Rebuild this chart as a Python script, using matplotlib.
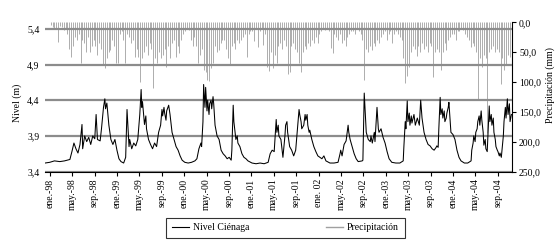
import matplotlib.pyplot as plt
import numpy as np
from matplotlib.lines import Line2D
from matplotlib.ticker import FuncFormatter

plt.rcParams['font.family'] = ['Liberation Serif', 'DejaVu Serif']
plt.rcParams['font.size'] = 7

# nivel de la cienaga (m), tiempo en anos decimales
level_t = [1997.93,
    1998.00, 1998.07, 1998.15, 1998.22, 1998.30, 1998.33, 1998.36, 1998.39, 1998.42, 1998.45,
    1998.48, 1998.49, 1998.52, 1998.55, 1998.58, 1998.61, 1998.64, 1998.67, 1998.69, 1998.71,
    1998.75, 1998.77, 1998.80, 1998.82, 1998.83, 1998.85, 1998.88, 1998.91, 1998.94, 1998.97,
    1999.00, 1999.03, 1999.06, 1999.10, 1999.13, 1999.15, 1999.18, 1999.19, 1999.22, 1999.25,
    1999.28, 1999.31, 1999.34, 1999.36, 1999.37, 1999.38, 1999.41, 1999.43, 1999.44, 1999.47,
    1999.50, 1999.53, 1999.56, 1999.59, 1999.62, 1999.65, 1999.67, 1999.68, 1999.70, 1999.71,
    1999.73, 1999.74, 1999.77, 1999.79, 1999.82, 1999.85, 1999.88, 1999.91, 1999.94, 1999.97,
    2000.01, 2000.06, 2000.11, 2000.16, 2000.19, 2000.22, 2000.25, 2000.26, 2000.28, 2000.29,
    2000.31, 2000.32, 2000.34, 2000.35, 2000.37, 2000.38, 2000.40, 2000.41, 2000.43, 2000.44,
    2000.46, 2000.49, 2000.52, 2000.55, 2000.58, 2000.61, 2000.64, 2000.67, 2000.70, 2000.71,
    2000.73, 2000.74, 2000.77, 2000.79, 2000.80, 2000.83, 2000.86, 2000.89, 2000.92, 2000.95,
    2001.01, 2001.07, 2001.13, 2001.19, 2001.25, 2001.28, 2001.31, 2001.34, 2001.37, 2001.38,
    2001.40, 2001.41, 2001.44, 2001.47, 2001.50, 2001.51, 2001.53, 2001.54, 2001.57, 2001.60,
    2001.63, 2001.66, 2001.69, 2001.71, 2001.72, 2001.74, 2001.75, 2001.78, 2001.80, 2001.81,
    2001.83, 2001.84, 2001.86, 2001.87, 2001.90, 2001.93, 2001.96, 2001.99,
    2002.02, 2002.05, 2002.08, 2002.11, 2002.17, 2002.23, 2002.29, 2002.32, 2002.33, 2002.35,
    2002.38, 2002.41, 2002.44, 2002.45, 2002.47, 2002.50, 2002.53, 2002.56, 2002.59, 2002.65,
    2002.66, 2002.68, 2002.71, 2002.74, 2002.77, 2002.78, 2002.80, 2002.83, 2002.84, 2002.87,
    2002.89, 2002.90, 2002.93, 2002.96, 2002.99,
    2003.02, 2003.05, 2003.09, 2003.15, 2003.21, 2003.26, 2003.27, 2003.29, 2003.30, 2003.32,
    2003.33, 2003.35, 2003.36, 2003.38, 2003.39, 2003.42, 2003.44, 2003.47, 2003.50, 2003.52,
    2003.54, 2003.57, 2003.60, 2003.63, 2003.66, 2003.69, 2003.72, 2003.75, 2003.76, 2003.78,
    2003.79, 2003.81, 2003.82, 2003.84, 2003.85, 2003.87, 2003.88, 2003.90, 2003.91, 2003.93,
    2003.94, 2003.96, 2003.97,
    2004.00, 2004.03, 2004.06, 2004.09, 2004.12, 2004.17, 2004.22, 2004.27, 2004.28, 2004.30,
    2004.31, 2004.33, 2004.34, 2004.36, 2004.37, 2004.39, 2004.40, 2004.42, 2004.43, 2004.45,
    2004.46, 2004.48, 2004.49, 2004.51, 2004.52, 2004.54, 2004.55, 2004.57, 2004.58, 2004.60,
    2004.61, 2004.63, 2004.64, 2004.66, 2004.67, 2004.69, 2004.70, 2004.72, 2004.73, 2004.75,
    2004.76, 2004.78, 2004.79, 2004.81, 2004.82, 2004.84, 2004.85, 2004.87]
level_m = [3.52,
    3.53, 3.55, 3.54, 3.55, 3.57, 3.68, 3.80, 3.72, 3.66, 3.78,
    4.06, 3.72, 3.90, 3.82, 3.88, 3.78, 3.90, 3.86, 4.20, 3.85,
    3.83, 4.00, 4.30, 4.42, 4.28, 4.36, 4.05, 3.85, 3.78, 3.85,
    3.70, 3.58, 3.54, 3.52, 3.60, 4.27, 3.75, 3.85, 3.72, 3.80,
    3.76, 3.85, 4.20, 4.55, 4.30, 4.38, 4.06, 4.18, 4.00, 3.85,
    3.78, 3.72, 3.80, 3.75, 3.95, 4.05, 4.27, 4.18, 4.30, 4.22,
    4.12, 4.25, 4.33, 4.20, 3.95, 3.85, 3.75, 3.70, 3.62, 3.56,
    3.53, 3.52, 3.53, 3.55, 3.58, 3.72, 3.80, 3.75, 4.10, 4.62,
    4.30, 4.58, 4.25, 4.40, 4.20, 4.35, 4.40, 4.28, 4.45, 4.35,
    4.05, 3.90, 3.85, 3.70, 3.65, 3.62, 3.58, 3.60, 3.56, 3.70,
    4.33, 4.10, 3.85, 3.90, 3.80, 3.75, 3.65, 3.60, 3.58, 3.55,
    3.52, 3.51, 3.52, 3.51, 3.53, 3.65, 3.70, 3.68, 4.13, 3.95,
    4.05, 3.90, 3.85, 3.60, 3.90, 4.05, 4.10, 3.95, 3.75, 3.70,
    3.62, 3.70, 4.05, 4.27, 4.20, 4.10, 4.00, 4.05, 4.20, 4.12,
    4.20, 4.05, 3.95, 3.98, 3.85, 3.75, 3.68, 3.62,
    3.60, 3.58, 3.62, 3.55, 3.52, 3.52, 3.53, 3.65, 3.70, 3.62,
    3.78, 3.83, 4.05, 3.95, 3.85, 3.75, 3.65, 3.58, 3.54, 3.55,
    3.56, 4.50, 3.95, 3.85, 3.82, 3.90, 3.80, 3.95, 3.82, 4.30,
    4.00, 3.95, 4.00, 3.88, 3.80,
    3.68, 3.58, 3.53, 3.52, 3.52, 3.55, 3.75, 4.10, 4.00, 4.39,
    4.10, 4.22, 4.05, 4.18, 4.08, 4.20, 4.05, 4.15, 4.05, 4.40,
    4.15, 3.95, 3.85, 3.78, 3.76, 3.72, 3.70, 3.74, 3.76, 3.74,
    4.00, 4.44, 4.20, 4.28, 4.15, 4.25, 4.10, 4.15, 4.22, 4.30,
    4.37, 4.10, 3.95,
    3.92, 3.85, 3.70, 3.60, 3.55, 3.52, 3.52, 3.55, 3.70, 3.80,
    3.90, 3.82, 3.95, 4.00, 4.10, 4.18, 4.05, 4.25, 4.12, 3.95,
    3.77, 3.85, 3.72, 3.68, 3.90, 4.32, 4.10, 4.20, 4.05, 4.15,
    3.95, 3.85, 3.75, 3.70, 3.68, 3.62, 3.66, 3.60, 3.70, 3.90,
    4.10, 4.30, 4.15, 4.42, 4.20, 4.35, 4.10, 4.20]

# precipitacion maxima por decada (mm), 3 valores por mes
rain_1998 = [5, 8, 10, 10, 32, 6, 8, 12, 10, 20, 45, 58, 40, 25, 30, 20, 68, 30,
             35, 50, 25, 49, 40, 30, 40, 55, 35, 45, 71, 77, 60, 50, 46, 30, 40, 68]
rain_1999 = [68, 20, 15, 30, 68, 20, 25, 35, 30, 58, 45, 58, 100, 60, 50, 40, 55, 35,
             45, 110, 60, 68, 50, 60, 55, 45, 74, 40, 60, 35, 30, 58, 40, 51, 30, 20]
rain_2000 = [15, 10, 12, 30, 40, 25, 40, 68, 55, 45, 80, 83, 96, 99, 76, 68, 40, 50,
             46, 35, 30, 30, 45, 60, 71, 40, 35, 45, 30, 35, 30, 25, 20, 58, 20, 15]
rain_2001 = [15, 31, 10, 41, 15, 10, 38, 20, 74, 82, 50, 76, 55, 68, 40, 35, 45, 30,
             40, 87, 83, 40, 35, 45, 50, 68, 83, 50, 40, 45, 35, 40, 30, 35, 25, 35]
rain_2002 = [20, 15, 10, 12, 10, 15, 43, 52, 20, 25, 30, 20, 35, 30, 40, 25, 20, 15,
             15, 20, 10, 15, 20, 30, 96, 45, 50, 40, 46, 35, 40, 30, 35, 25, 20, 15]
rain_2003 = [30, 20, 15, 35, 20, 15, 20, 25, 30, 60, 102, 90, 74, 50, 40, 45, 57, 40,
             50, 35, 45, 40, 50, 35, 40, 91, 50, 45, 50, 80, 50, 35, 46, 30, 25, 20]
rain_2004 = [20, 29, 15, 15, 10, 12, 20, 25, 30, 41, 35, 40, 50, 130, 60, 75, 55, 60,
             185, 50, 45, 40, 50, 45, 50, 104, 60, 80, 70, 55, 58, 40]
rain_years = [1998, 1999, 2000, 2001, 2002, 2003, 2004]

tick_labels = ['ene.-98', 'may.-98', 'sep.-98', 'ene.-99', 'may.-99', 'sep.-99',
               'ene.-00', 'may.-00', 'sep.-00', 'ene.-01', 'may.-01', 'sep.-01',
               'ene. 02', 'may.-02', 'sep.-02', 'ene.-03', 'may.-03', 'sep.-03',
               'ene.-04', 'may.-04', 'sep.-04']

rain_all = [rain_1998, rain_1999, rain_2000, rain_2001, rain_2002, rain_2003, rain_2004]
rain_t, rain_v = [], []
for yr, vals in zip(rain_years, rain_all):
    for i, v in enumerate(vals):
        rain_t.append(yr + (i + 0.5) / 36.0)
        rain_v.append(v)

fig = plt.figure(figsize=(5.56, 2.41), dpi=100)
ax1 = fig.add_axes([0.081, 0.288, 0.84, 0.619])
ax2 = ax1.twinx()
ax1.set_zorder(ax2.get_zorder() + 1)
ax1.patch.set_visible(False)

ax2.vlines(rain_t, 0, rain_v, color='#a0a0a0', linewidth=0.6)
ax2.set_ylim(250, 0)
ax2.set_yticks([0, 50, 100, 150, 200, 250])
ax2.yaxis.set_major_formatter(FuncFormatter(lambda v, p: f'{v:.1f}'.replace('.', ',')))
ax2.set_ylabel('Precipitación (mm)')
ax2.yaxis.set_label_coords(1.072, 0.58)
ax2.tick_params(axis='y', length=3, width=0.8, pad=2)

ax1.plot(level_t, level_m, color='black', linewidth=0.75)
ax1.set_ylim(3.4, 5.49)
ax1.set_yticks([3.4, 3.9, 4.4, 4.9, 5.4])
ax1.yaxis.set_major_formatter(FuncFormatter(lambda v, p: f'{v:.1f}'.replace('.', ',')))
ax1.set_ylabel('Nivel (m)')
ax1.yaxis.set_label_coords(-0.05, 0.46)
ax1.grid(axis='y', color='#8c8c8c', linewidth=1.6)
ax1.tick_params(axis='y', length=0, pad=4)

ticks = np.arange(len(tick_labels)) / 3.0 + 1998
ax1.set_xticks(ticks)
ax1.set_xticklabels(tick_labels, rotation=90)
ax1.set_xlim(1997.93, 2004.88)
ax1.tick_params(axis='x', length=3, width=0.8, pad=2)

for s in ['left', 'top', 'right']:
    ax1.spines[s].set_visible(False)
for s in ['left', 'top', 'bottom']:
    ax2.spines[s].set_visible(False)
ax1.spines['bottom'].set_linewidth(0.8)
ax2.spines['right'].set_linewidth(0.8)

handles = [Line2D([], [], color='black', linewidth=0.8),
           Line2D([], [], color='#a0a0a0', linewidth=1.0)]
leg = fig.legend(handles, ['Nivel Ciénaga', 'Precipitación'], ncol=2,
                 loc='upper left', bbox_to_anchor=(0.298, 0.097, 0.43, 0),
                 mode='expand', frameon=True, fancybox=False, fontsize=7,
                 handlelength=1.8, handletextpad=0.4, borderpad=0.6,
                 borderaxespad=0)
leg.get_frame().set_edgecolor('black')
leg.get_frame().set_linewidth(0.8)

fig.savefig('out.png', dpi=100)
